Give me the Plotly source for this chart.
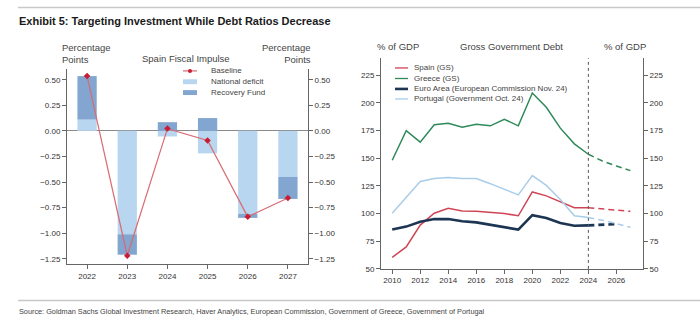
import plotly.graph_objects as go

# ---- Spain fiscal impulse (percentage points) ----
impulse_years = [2022, 2023, 2024, 2025, 2026, 2027]
national_deficit = [0.11, -1.01, -0.055, -0.22, -0.81, -0.45]
recovery_fund = [0.425, -0.20, 0.085, 0.125, -0.04, -0.215]
baseline = [0.535, -1.22, 0.022, -0.093, -0.84, -0.655]

# ---- Gross government debt (% of GDP) ----
debt_years = list(range(2010, 2025))
spain = [60.4, 69.8, 89.6, 100.3, 104.7, 102.4, 102.0, 101.0, 100.0, 98.0, 119.5, 116.0, 110.4, 105.3, 105.3]
greece = [148.2, 174.9, 164.5, 180.2, 181.7, 178.0, 180.8, 179.3, 185.2, 179.3, 208.9, 196.0, 177.2, 163.0, 153.6]
euro_area = [85.5, 88.2, 92.6, 95.0, 95.0, 93.0, 92.0, 90.0, 87.9, 85.5, 98.5, 95.9, 91.4, 89.0, 89.3]
portugal = [100.3, 114.4, 129.0, 131.7, 132.5, 131.7, 131.7, 127.0, 122.2, 116.9, 134.3, 125.4, 112.7, 98.0, 96.4]

proj_years = [2024, 2025, 2026, 2027]
spain_proj = [105.3, 104.0, 103.0, 102.0]
greece_proj = [153.6, 147.5, 143.0, 138.8]
euro_proj_years = [2024, 2025, 2026]
euro_proj = [89.3, 90.0, 90.5]
portugal_proj = [96.4, 94.0, 90.8, 87.6]
PROJECTION_START = 2024

impulse_names = ["Baseline", "National deficit", "Recovery Fund"]
debt_names = ["Spain (GS)", "Greece (GS)", "Euro Area (European Commission Nov. 24)",
              "Portugal (Government Oct. 24)"]

LIGHT_BLUE = "#b8d6ef"
MID_BLUE = "#82a6cf"
RED_LINE = "#d86a72"
RED_MARK = "#c91c35"
SPAIN_C = "#d04555"
GREECE_C = "#2f8a5a"
EURO_C = "#1c3552"
PORT_C = "#a9cde9"
AXIS_C = "#666666"
TXT_C = "#333333"
FONT = "Liberation Sans, Arial, sans-serif"

W, H = 700, 330
L_DOM_X = [67 / W, 308 / W]
L_DOM_Y = [1 - 268 / H, 1 - 70 / H]
R_DOM_X = [381 / W, 643 / W]
R_DOM_Y = [1 - 273 / H, 1 - 59 / H]
L_RANGE = [-1.30, 0.605]
R_RANGE = [50, 240.5]
L_TICKS = [0.5, 0.25, 0, -0.25, -0.5, -0.75, -1.0, -1.25]

fig = go.Figure()

# Left panel: stacked bars + baseline
fig.add_trace(go.Bar(x=impulse_years, y=national_deficit, marker_color=LIGHT_BLUE,
                     marker_line_width=0, width=0.48, xaxis="x", yaxis="y", showlegend=False))
fig.add_trace(go.Bar(x=impulse_years, y=recovery_fund, marker_color=MID_BLUE,
                     marker_line_width=0, width=0.48, xaxis="x", yaxis="y", showlegend=False))
fig.add_trace(go.Scatter(x=impulse_years, y=baseline, mode="lines+markers",
                         line=dict(color=RED_LINE, width=1.2),
                         marker=dict(color=RED_MARK, size=5, symbol="diamond"),
                         xaxis="x", yaxis="y", showlegend=False))
fig.add_trace(go.Scatter(x=[None], y=[None], xaxis="x", yaxis="y2", showlegend=False))

# Right panel: historical lines (solid) + projections (dashed)
hist = [(spain, SPAIN_C, 1.5), (greece, GREECE_C, 1.5), (euro_area, EURO_C, 2.6), (portugal, PORT_C, 1.5)]
for vals, col, w in hist:
    fig.add_trace(go.Scatter(x=debt_years, y=vals, mode="lines", line=dict(color=col, width=w),
                             xaxis="x2", yaxis="y3", showlegend=False))
proj = [(proj_years, spain_proj, SPAIN_C, 1.5), (proj_years, greece_proj, GREECE_C, 1.5),
        (euro_proj_years, euro_proj, EURO_C, 2.6), (proj_years, portugal_proj, PORT_C, 1.5)]
for xs, vals, col, w in proj:
    fig.add_trace(go.Scatter(x=xs, y=vals, mode="lines", line=dict(color=col, width=w, dash="6px,4px"),
                             xaxis="x2", yaxis="y3", showlegend=False))
fig.add_trace(go.Scatter(x=[None], y=[None], xaxis="x2", yaxis="y4", showlegend=False))

axis_common = dict(showgrid=False, showline=True, linecolor=AXIS_C, linewidth=1,
                   ticks="outside", ticklen=4, tickcolor=AXIS_C,
                   tickfont=dict(family=FONT, size=8, color=TXT_C))

fig.update_layout(
    width=W, height=H, margin=dict(l=0, r=0, t=0, b=0),
    paper_bgcolor="white", plot_bgcolor="white",
    barmode="relative", showlegend=False,
    xaxis=dict(domain=L_DOM_X, anchor="y", range=[2021.5, 2027.5], tickvals=impulse_years,
               **axis_common),
    yaxis=dict(domain=L_DOM_Y, anchor="x", range=L_RANGE, tickvals=L_TICKS,
               tickformat=".2f", zeroline=True, zerolinecolor="#8a8a8a", zerolinewidth=1, **axis_common),
    yaxis2=dict(overlaying="y", side="right", anchor="x", range=L_RANGE,
                tickvals=L_TICKS, tickformat=".2f", zeroline=False, **axis_common),
    xaxis2=dict(domain=R_DOM_X, anchor="y3", range=[2009.2, 2027.9], tickvals=list(range(2010, 2027, 2)),
                **axis_common),
    yaxis3=dict(domain=R_DOM_Y, anchor="x2", range=R_RANGE, tickvals=list(range(50, 226, 25)),
                zeroline=False, **axis_common),
    yaxis4=dict(overlaying="y3", side="right", anchor="x2", range=R_RANGE,
                tickvals=list(range(50, 226, 25)), zeroline=False, **axis_common),
)

# projection marker
fig.add_shape(type="line", xref="x2", yref="y3 domain", x0=PROJECTION_START, x1=PROJECTION_START,
              y0=0, y1=1, line=dict(color="#555555", width=1, dash="dot"))

# page rules
fig.add_shape(type="line", xref="paper", yref="paper", x0=18 / W, x1=1, y0=1 - 7.5 / H, y1=1 - 7.5 / H,
              line=dict(color="#c8c8c8", width=1.5))
fig.add_shape(type="line", xref="paper", yref="paper", x0=18 / W, x1=1, y0=1 - 305 / H, y1=1 - 305 / H,
              line=dict(color="#c8c8c8", width=1.5))


def px_text(x, y, text, size=9, anchor="left", color=TXT_C, bold=False):
    if bold:
        text = "<b>" + text + "</b>"
    fig.add_annotation(x=x / W, y=1 - y / H, xref="paper", yref="paper", text=text, showarrow=False,
                       xanchor=anchor, yanchor="middle", align=anchor,
                       font=dict(family=FONT, size=size, color=color))


px_text(17, 21, "Exhibit 5: Targeting Investment While Debt Ratios Decrease", size=11,
        color="#1a1a1a", bold=True)
px_text(17, 316, "Source: Goldman Sachs Global Investment Research, Haver Analytics, European Commission, "
        "Government of Greece, Government of Portugal", size=7.3, color="#444444")

# panel headings
px_text(60, 54, "Percentage<br>Points", size=9.5, color="#444444")
px_text(313, 54, "Percentage<br>Points", size=9.5, anchor="right", color="#444444")
px_text(186.5, 59, "Spain Fiscal Impulse", size=9.5, anchor="center", color="#444444")
px_text(375, 47, "% of GDP", size=9.5, color="#444444")
px_text(511, 47, "Gross Government Debt", size=9.5, anchor="center", color="#444444")
px_text(648, 47, "% of GDP", size=9.5, anchor="right", color="#444444")

# left legend
leg_y = [72, 83, 94]
fig.add_shape(type="line", xref="paper", yref="paper", x0=183 / W, x1=197 / W,
              y0=1 - leg_y[0] / H, y1=1 - leg_y[0] / H, line=dict(color=RED_LINE, width=1.2))
fig.add_shape(type="circle", xref="paper", yref="paper", x0=188 / W, x1=192 / W,
              y0=1 - (leg_y[0] + 2) / H, y1=1 - (leg_y[0] - 2) / H,
              fillcolor=RED_MARK, line=dict(width=0))
for yy, col in [(leg_y[1], LIGHT_BLUE), (leg_y[2], MID_BLUE)]:
    fig.add_shape(type="rect", xref="paper", yref="paper", x0=183 / W, x1=197 / W,
                  y0=1 - (yy + 2.5) / H, y1=1 - (yy - 2.5) / H, fillcolor=col, line=dict(width=0))
for yy, name in zip(leg_y, impulse_names):
    px_text(209, yy, name, size=8, color="#444444")

# right legend
r_leg_y = [69, 79.7, 90.3, 100.5]
for yy, col, w in zip(r_leg_y, [SPAIN_C, GREECE_C, EURO_C, PORT_C], [1.3, 1.3, 2.6, 1.3]):
    fig.add_shape(type="line", xref="paper", yref="paper", x0=395 / W, x1=408 / W,
                  y0=1 - yy / H, y1=1 - yy / H, line=dict(color=col, width=w))
for yy, name in zip(r_leg_y, debt_names):
    px_text(412, yy, name, size=8, color="#444444")

fig.write_html("out.html")
